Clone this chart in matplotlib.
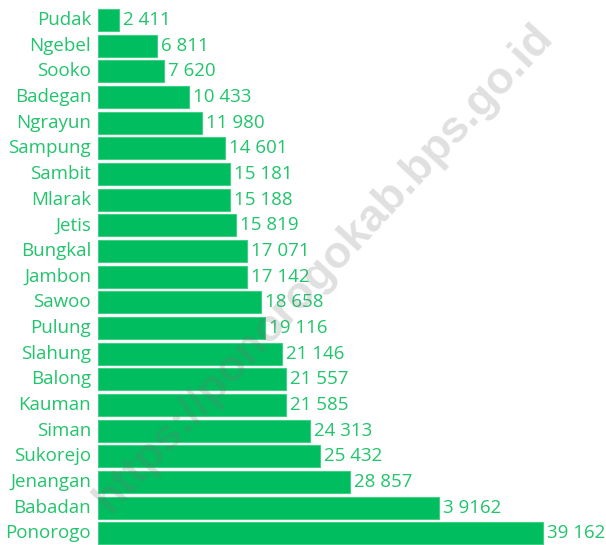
import matplotlib.pyplot as plt

# data (bar lengths as drawn; printed labels as shown on the chart)
kecamatan = ['Pudak', 'Ngebel', 'Sooko', 'Badegan', 'Ngrayun', 'Sampung', 'Sambit',
             'Mlarak', 'Jetis', 'Bungkal', 'Jambon', 'Sawoo', 'Pulung', 'Slahung',
             'Balong', 'Kauman', 'Siman', 'Sukorejo', 'Jenangan', 'Babadan', 'Ponorogo']
nilai = [2411, 6811, 7620, 10433, 11980, 14601, 15181, 15188, 15819, 17071, 17142,
         18658, 19116, 21146, 21557, 21585, 24313, 25432, 28857, 39162, 51030]
label_nilai = ['2 411', '6 811', '7 620', '10 433', '11 980', '14 601', '15 181',
               '15 188', '15 819', '17 071', '17 142', '18 658', '19 116', '21 146',
               '21 557', '21 585', '24 313', '25 432', '28 857', '3 9162', '39 162']

hijau = '#00BE5F'
hijau_teks = '#22C46C'

plt.rcParams['font.family'] = ['Open Sans', 'DejaVu Sans']

fig = plt.figure(figsize=(6.06, 5.45), dpi=100)
ax = fig.add_axes([98 / 606, 0, 508 / 606, 1])

pos = list(range(len(kecamatan)))
ax.barh(pos, nilai, height=0.86, color=hijau, edgecolor='#3fcf85', linewidth=0.8)

skala = 508 / 0.00872
ax.set_xlim(0, skala)
ax.set_ylim(20.45, -0.78)

for i, (v, t) in enumerate(zip(nilai, label_nilai)):
    ax.text(v + 450, i, t, va='center', ha='left', fontsize=13.5, color=hijau_teks)
    ax.text(-800, i, kecamatan[i], va='center', ha='right', fontsize=13.5, color=hijau_teks)

ax.axis('off')

# watermark (semi transparan di atas batang)
fig.text(0.535, 0.508, 'https://ponorogokab.bps.go.id', rotation=47, fontsize=32.5,
         fontweight='bold', color='#707070', alpha=0.22, ha='center', va='center',
         rotation_mode='anchor', family='Liberation Sans', zorder=10)

fig.savefig('out.png', dpi=100)
